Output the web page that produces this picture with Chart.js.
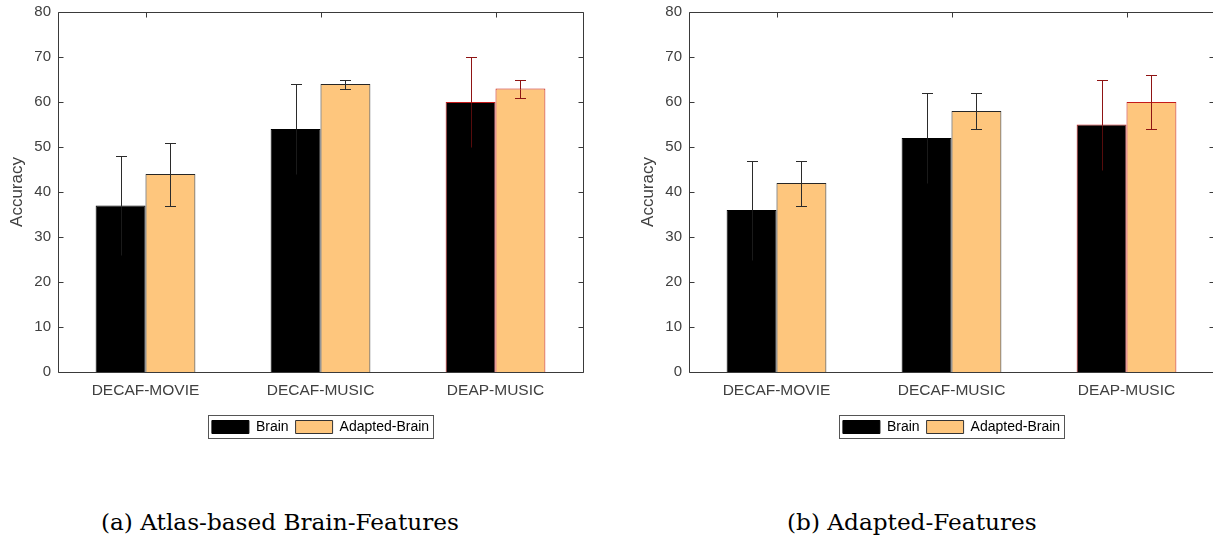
<!DOCTYPE html>
<html>
<head>
<meta charset="utf-8">
<script src="https://cdn.jsdelivr.net/npm/chart.js@4.4.1/dist/chart.umd.min.js"></script>
<style>
  html, body { margin: 0; padding: 0; background: #fff; width: 1213px; height: 540px; overflow: hidden; position: relative; }
  .panel { position: absolute; top: 0; height: 460px; }
  #panelA { left: 0; width: 600px; }
  #panelB { left: 631px; width: 600px; }
  .caption { position: absolute; top: 508px; font-family: "DejaVu Serif", serif; font-size: 23.2px; color: #000; white-space: nowrap; }
</style>
</head>
<body>
<div class="panel" id="panelA"><canvas id="chartA"></canvas></div>
<div class="panel" id="panelB"><canvas id="chartB"></canvas></div>
<div class="caption" style="left:101px">(a) Atlas-based Brain-Features</div>
<div class="caption" style="left:787px">(b) Adapted-Features</div>
<script>
// categorias y series
const categories = ["DECAF-MOVIE", "DECAF-MUSIC", "DEAP-MUSIC"];
const seriesNames = ["Brain", "Adapted-Brain"];
const yTicks = [0, 10, 20, 30, 40, 50, 60, 70, 80];

// (a) Atlas-based Brain-Features
const atlasBrain = [37, 54, 60];
const atlasBrainErr = [11, 10, 10];
const atlasAdapted = [44, 64, 63];
const atlasAdaptedErr = [7, 1, 2];

// (b) Adapted-Features
const adaptedBrain = [36, 52, 55];
const adaptedBrainErr = [11, 10, 10];
const adaptedAdapted = [42, 58, 60];
const adaptedAdaptedErr = [5, 4, 6];

const FONT = "'Liberation Sans', Arial, sans-serif";
const ORANGE = "#FEC67D";
const whiskerColors = ["#2b2b2b", "#2b2b2b", "#8f1414"];
const brainEdge = ["#000000", "#000000", "#c41a1a"];
const adaptedEdge = ["#262626", "#262626", "#c41a1a"];

// barras de error dibujadas con las escalas del grafico
const errorBars = {
  id: "errorBars",
  afterDatasetsDraw(chart, args, opts) {
    const { ctx, scales: { y } } = chart;
    ctx.save();
    ctx.lineWidth = 1;
    chart.data.datasets.forEach((ds, di) => {
      const meta = chart.getDatasetMeta(di);
      const errs = opts.errors[di];
      meta.data.forEach((bar, i) => {
        const v = ds.data[i];
        const x = Math.round(bar.x) + 0.5;
        const yTop = Math.round(y.getPixelForValue(v + errs[i])) + 0.5;
        const yMid = Math.round(y.getPixelForValue(v)) + 0.5;
        const yLow = Math.round(y.getPixelForValue(v - errs[i])) + 0.5;
        ctx.strokeStyle = whiskerColors[i];
        ctx.beginPath();
        ctx.moveTo(x, yTop); ctx.lineTo(x, yMid);
        ctx.moveTo(x - 5.5, yTop); ctx.lineTo(x + 5.5, yTop);
        ctx.stroke();
        // parte inferior (sobre la barra)
        ctx.globalAlpha = di === 0 ? 0.6 : 1;
        ctx.beginPath();
        ctx.moveTo(x, yMid); ctx.lineTo(x, yLow);
        if (di === 1) { ctx.moveTo(x - 5.5, yLow); ctx.lineTo(x + 5.5, yLow); }
        ctx.stroke();
        ctx.globalAlpha = 1;
      });
    });
    ctx.restore();
  },
};

// marco de ejes con marcas hacia dentro (estilo MATLAB)
const axesFrame = {
  id: "axesFrame",
  afterDatasetsDraw(chart) {
    const { ctx, chartArea: a, scales: { x, y } } = chart;
    const L = Math.round(a.left) + 0.5, R = Math.round(a.right) + 0.5;
    const T = Math.round(a.top) + 0.5, B = Math.round(a.bottom) + 0.5;
    ctx.save();
    ctx.strokeStyle = "#3a3a3a";
    ctx.lineWidth = 1;
    ctx.beginPath();
    ctx.moveTo(L, T); ctx.lineTo(R, T); ctx.lineTo(R, B); ctx.lineTo(L, B); ctx.closePath();
    y.ticks.forEach((t) => {
      const py = Math.round(y.getPixelForValue(t.value)) + 0.5;
      ctx.moveTo(L, py); ctx.lineTo(L + 5, py);
      ctx.moveTo(R, py); ctx.lineTo(R - 5, py);
    });
    categories.forEach((c, i) => {
      const px = Math.round(x.getPixelForValue(i)) + 0.5;
      ctx.moveTo(px, T); ctx.lineTo(px, T + 5);
    });
    ctx.stroke();
    ctx.restore();
  },
};

// recuadro alrededor de la leyenda
const legendFrame = {
  id: "legendFrame",
  afterDraw(chart) {
    const boxes = chart.legend && chart.legend.legendHitBoxes;
    if (!boxes || !boxes.length) return;
    const l = Math.min(...boxes.map((b) => b.left));
    const r = Math.max(...boxes.map((b) => b.left + b.width));
    const t = Math.min(...boxes.map((b) => b.top));
    const b = Math.max(...boxes.map((b) => b.top + b.height));
    const ctx = chart.ctx;
    ctx.save();
    ctx.strokeStyle = "#555555";
    ctx.lineWidth = 1;
    ctx.strokeRect(Math.round(l) - 3.5, Math.round(t) - 4.5, Math.round(r - l) + 8, Math.round(b - t) + 9);
    ctx.restore();
  },
};

function crearGrafico(id, brain, brainErr, adapted, adaptedErr) {
  return new Chart(document.getElementById(id), {
    type: "bar",
    data: {
      labels: categories,
      datasets: [
        { label: seriesNames[0], data: brain, backgroundColor: "#000000", borderColor: brainEdge, borderWidth: 1 },
        { label: seriesNames[1], data: adapted, backgroundColor: ORANGE, borderColor: adaptedEdge, borderWidth: 1 },
      ],
    },
    options: {
      responsive: true,
      maintainAspectRatio: false,
      animation: false,
      events: [],
      categoryPercentage: 0.57,
      barPercentage: 1.0,
      layout: { padding: { top: 12, right: 17, left: 0, bottom: 16 } },
      plugins: {
        tooltip: { enabled: false },
        errorBars: { errors: [brainErr, adaptedErr] },
        legend: {
          position: "bottom",
          fullSize: false,
          labels: {
            boxWidth: 37,
            boxHeight: 13,
            padding: 7,
            color: "#262626",
            font: { size: 14, family: FONT },
            generateLabels: () => [
              { text: seriesNames[0], fillStyle: "#000000", strokeStyle: "#000000", lineWidth: 1, datasetIndex: 0 },
              { text: seriesNames[1], fillStyle: ORANGE, strokeStyle: "#333333", lineWidth: 1, datasetIndex: 1 },
            ],
          },
        },
      },
      scales: {
        x: {
          offset: true,
          grid: { display: false, drawTicks: false },
          border: { display: false },
          ticks: { padding: 9, color: "#404040", font: { size: 15.5, family: FONT }, maxRotation: 0 },
          afterFit: (s) => { s.height = 41; },
        },
        y: {
          min: 0,
          max: 80,
          afterBuildTicks: (s) => { s.ticks = yTicks.map((v) => ({ value: v })); },
          grid: { display: false, drawTicks: false },
          border: { display: false },
          ticks: { padding: 7, color: "#404040", font: { size: 15, family: FONT } },
          title: { display: true, text: "Accuracy", color: "#404040", font: { size: 17, family: FONT }, padding: { top: 7, bottom: 0 } },
          afterFit: (s) => { s.width = 58; s.paddingTop = 0; s.paddingBottom = 0; },
        },
      },
    },
    plugins: [errorBars, axesFrame, legendFrame],
  });
}

crearGrafico("chartA", atlasBrain, atlasBrainErr, atlasAdapted, atlasAdaptedErr);
crearGrafico("chartB", adaptedBrain, adaptedBrainErr, adaptedAdapted, adaptedAdaptedErr);
</script>
</body>
</html>
